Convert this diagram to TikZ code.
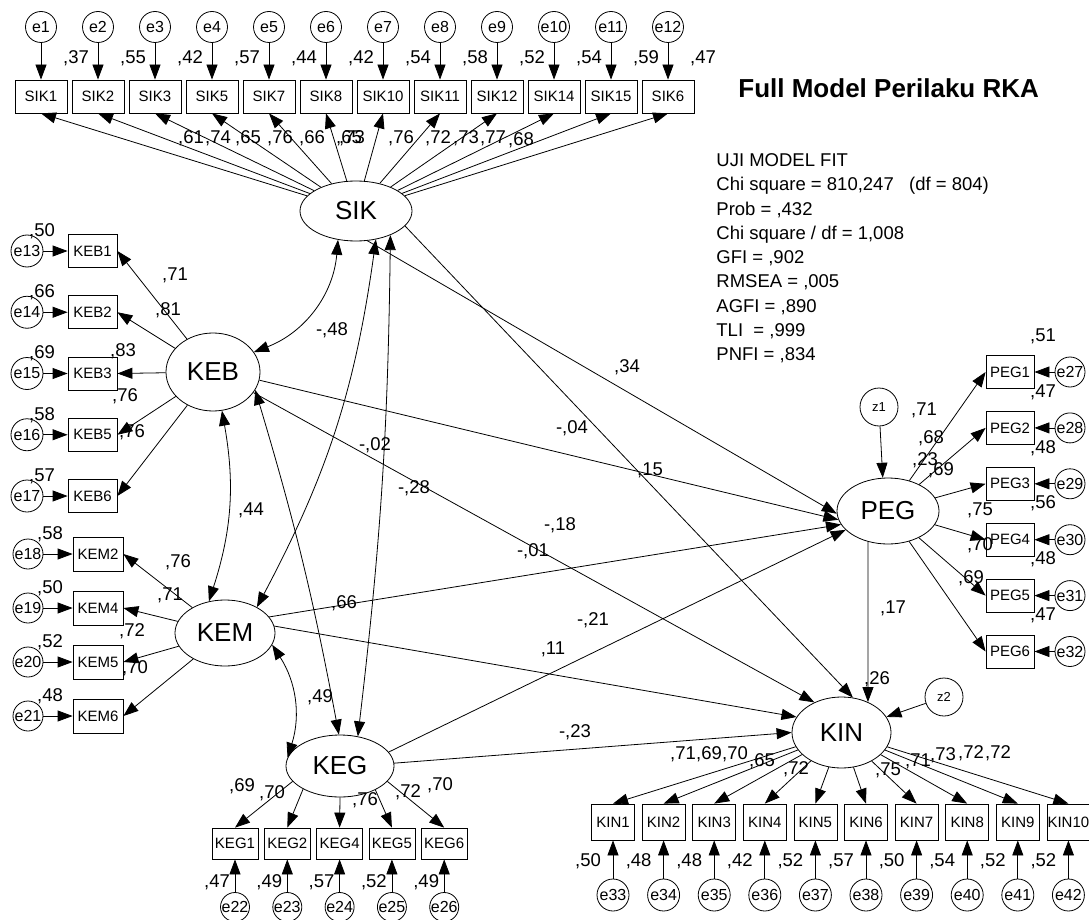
\documentclass[tikz,border=0pt]{standalone}
\usepackage{fontspec}
\setmainfont{Liberation Sans}
\usetikzlibrary{arrows.meta,shapes.geometric}
\newcommand{\fsz}[1]{\fontsize{#1}{#1}\selectfont}
\begin{document}
\begin{tikzpicture}[x=1pt,y=1pt,line width=0.8pt,
  >={Triangle[length=15pt,width=11pt]},
  obs/.style={draw, rectangle, inner sep=0pt, minimum height=33pt, font=\fsz{15}},
  err/.style={draw, circle, inner sep=0pt, minimum size=31pt, font=\fsz{16}},
  zc/.style={draw, circle, inner sep=0pt, minimum size=38pt, font=\fsz{13}},
  lat/.style={draw, ellipse, inner sep=0pt, font=\fsz{26}},
  lb/.style={inner sep=0pt, font=\fsz{18.5}},
  fit/.style={inner sep=0pt, anchor=base west, font=\fsz{18.5}}]
\useasboundingbox (0,0) rectangle (1089,-920);

% latent variables
\node[lat, minimum width=112pt, minimum height=60pt] (SIK) at (356,-211) {SIK};
\node[lat, minimum width=94pt, minimum height=78pt] (KEB) at (213,-372) {KEB};
\node[lat, minimum width=100pt, minimum height=66pt] (KEM) at (225,-633) {KEM};
\node[lat, minimum width=108pt, minimum height=62pt] (KEG) at (340,-766) {KEG};
\node[lat, minimum width=102pt, minimum height=66pt] (PEG) at (888,-511) {PEG};
\node[lat, minimum width=99pt, minimum height=71pt] (KIN) at (841.5,-732.5) {KIN};
\node[zc] (z1) at (879,-407) {z1};
\node[zc] (z2) at (944,-697) {z2};

% SIK indicators
\foreach \n/\e/\rr [count=\i from 0] in {SIK1/e1/37,SIK2/e2/55,SIK3/e3/42,SIK5/e4/57,SIK7/e5/44,SIK8/e6/42,SIK10/e7/54,SIK11/e8/58,SIK12/e9/52,SIK14/e10/54,SIK15/e11/59,SIK6/e12/47}{
  \node[obs, minimum width=52pt] (\n) at ({41+57*\i},-96.5) {\n};
  \node[err] (\e) at ({41+57*\i},-27) {\e};
  \draw[->] (\e) -- (\n);
  \node[lb] (r\n) at ({76+57*\i},-58) {,\rr};
  \draw[->] (SIK) -- (\n.south);
}
% KEB indicators
\foreach \n/\e/\rr [count=\i from 0] in {KEB1/e13/50,KEB2/e14/66,KEB3/e15/69,KEB5/e16/58,KEB6/e17/57}{
  \node[obs, minimum width=49pt] (\n) at (92.5,{-251-61.25*\i}) {\n};
  \node[err, minimum size=32pt] (\e) at (27,{-251-61.25*\i}) {\e};
  \draw[->] (\e) -- (\n);
  \node[lb] (r\n) at (42,{-231-61.25*\i}) {,\rr};
  \draw[->] (KEB) -- (\n.east);
}
% KEM indicators
\foreach \n/\e/\rr [count=\i from 0] in {KEM2/e18/58,KEM4/e19/50,KEM5/e20/52,KEM6/e21/48}{
  \node[obs, minimum width=50pt, minimum height=34pt] (\n) at (98,{-554-54*\i}) {\n};
  \node[err, minimum size=30pt] (\e) at (28,{-554-54*\i}) {\e};
  \draw[->] (\e) -- (\n);
  \node[lb] (r\n) at (50,{-534-54*\i}) {,\rr};
  \draw[->] (KEM) -- (\n.east);
}
% KEG indicators
\foreach \n/\e/\rr/\a [count=\i from 0] in {KEG1/e22/47/198,KEG2/e23/49/212,KEG4/e24/57/270,KEG5/e25/52/326,KEG6/e26/49/342}{
  \node[obs, minimum width=46pt, minimum height=31pt] (\n) at ({235+52.3*\i},-843.5) {\n};
  \node[err, minimum size=29pt] (\e) at ({235+52.3*\i},-907) {\e};
  \draw[->] (\e) -- (\n);
  \node[lb] (r\n) at ({217+52.3*\i},-882) {,\rr};
  \draw[->] (KEG.\a) -- (\n.north);
}
% KIN indicators
\foreach \n/\e/\rr [count=\i from 0] in {KIN1/e33/50,KIN2/e34/48,KIN3/e35/48,KIN4/e36/42,KIN5/e37/52,KIN6/e38/57,KIN7/e39/50,KIN8/e40/54,KIN9/e41/52,KIN10/e42/52}{
  \node[obs, minimum width=43pt, minimum height=36pt] (\n) at ({613+50.6*\i},-822) {\n};
  \node[err, minimum size=32pt] (\e) at ({613+50.6*\i},-895) {\e};
  \draw[->] (\e) -- (\n);
  \node[lb] (r\n) at ({588+50.6*\i},-861) {,\rr};
  \draw[->] (KIN) -- (\n.north);
}
% PEG indicators
\foreach \n/\e/\rr [count=\i from 0] in {PEG1/e27/51,PEG2/e28/47,PEG3/e29/48,PEG4/e30/56,PEG5/e31/48,PEG6/e32/47}{
  \node[obs, minimum width=48pt] (\n) at (1010,{-372-55.9*\i}) {\n};
  \node[err, minimum size=30pt] (\e) at (1070,{-372-55.9*\i}) {\e};
  \draw[->] (\e) -- (\n);
  \node[lb] (r\n) at (1043,{-336-55.9*\i}) {,\rr};
  \draw[->] (PEG) -- (\n.west);
}

% structural paths
\draw[->] (SIK.291) -- (PEG.183);
\draw[->] (SIK.343) -- (KIN.72);
\draw[->] (KEB.350) -- (PEG.190);
\draw[->] (KEB.333) -- (KIN.132);
\draw[->] (KEM.20) -- (PEG.196);
\draw[->] (KEM.8) -- (KIN.161);
\draw[->] (KEG.16) -- (PEG.204);
\draw[->] (KEG.3) -- (KIN.180);
\draw[->] (PEG.237) -- (KIN.49);
\draw[->] (z1) -- (PEG.99);
\draw[->] (z2) -- (KIN);

% covariances
\draw[<->] (SIK.238) to[bend left=32] (KEB.26);
\draw[<->] (KEB.283) to[bend left=14] (KEM.117);
\draw[<->] (SIK.305) to[bend left=10] (KEM.39);
\draw[<->] (SIK.325) to[bend left=3] (KEG.59);
\draw[<->] (KEB.337) to[bend left=3] (KEG.92);
\draw[<->] (KEM.346) to[bend left=25] (KEG.171);

% coefficient labels
\foreach \x/\y/\t in {191/138/61,218/138/74,248/138/65,280/138/76,312/138/66,349/138/65,352/138/73,401/138/76,438/138/72,466/138/73,493/138/77,521/140/68,
  175/275/71,168/310/81,123/351/83,125/396/76,132/432/76,
  178/562/76,170/595/71,132/631/72,135/668/70,
  242/786/69,272/793/70,365/800/76,408/792/72,440/785/70,
  683/754/71,709/754/69,735/754/70,762/761/65,796/769/72,888/770/75,918/761/71,943/755/73,971/753/72,998/753/72,
  924/410/71,931/438/68,925/460/23,941/470/69,980/510/75,980/545/70,971/578/69,
  627/367/34,650/470/15,251/510/44,320/697/49,344/603/66,553/649/11,893/608/17,877/679/26}{
  \node[lb] (l\x-\y) at (\x,-\y) {,\t};
}
\node[lb] (n48) at (332,-330) {-,48};
\node[lb] (n04) at (572,-428) {-,04};
\node[lb] (n02) at (375,-445) {-,02};
\node[lb] (n28) at (414,-488) {-,28};
\node[lb] (n18) at (560,-525) {-,18};
\node[lb] (n01) at (533,-551) {-,01};
\node[lb] (n21) at (593,-620) {-,21};
\node[lb] (n23) at (575,-732) {-,23};

% title and fit
\node[anchor=west, inner sep=0pt, font=\fsz{26}\bfseries] (title) at (738,-88) {Full Model Perilaku RKA};
\node[fit] (f1) at (716,-166.7) {UJI MODEL FIT};
\node[fit] (f2) at (716,-190.95) {Chi square = 810,247\ \ \ (df = 804)};
\node[fit] (f3) at (716,-215.2) {Prob = ,432};
\node[fit] (f4) at (716,-239.45) {Chi square / df = 1,008};
\node[fit] (f5) at (716,-263.7) {GFI = ,902};
\node[fit] (f6) at (716,-287.95) {RMSEA = ,005};
\node[fit] (f7) at (716,-312.2) {AGFI = ,890};
\node[fit] (f8) at (716,-336.45) {TLI\ \ = ,999};
\node[fit] (f9) at (716,-360.7) {PNFI = ,834};
\end{tikzpicture}
\end{document}
